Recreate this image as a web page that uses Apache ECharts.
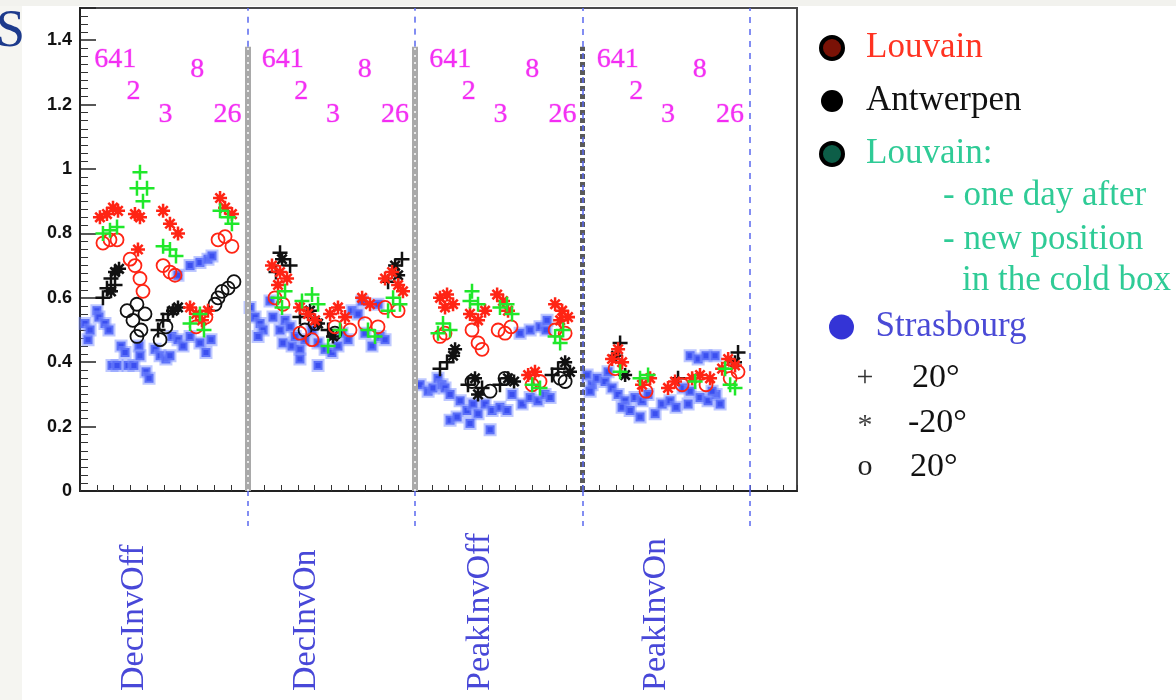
<!DOCTYPE html>
<html>
<head>
<meta charset="utf-8">
<title>Louvain / Antwerpen / Strasbourg</title>
<script src="https://cdn.jsdelivr.net/npm/echarts@6.0.0/dist/echarts.min.js"></script>
<style>
  html, body { margin: 0; padding: 0; background: #fff; }
  #chart { width: 1176px; height: 700px; }
</style>
</head>
<body>
<div id="chart"></div>
<script>
// x: position along the readout, 10 units per mode section; y: measured value
const sectionNames = ['DecInvOff', 'DecInvOn', 'PeakInvOff', 'PeakInvOn'];
const sectionStarts = [0, 10, 20, 30];
const sectionEdges = [10, 20, 30, 40];
const sectionLabelX = [3.2, 13.5, 23.9, 34.4];

const groupLabels = ['641', '2', '3', '8', '26'];
const groupLabelX = [2.1, 3.2, 5.1, 7.0, 8.8];
const groupLabelY = [1.34, 1.24, 1.17, 1.31, 1.17];

const strasbourg = [
  [0.30,0.52],[0.48,0.47],[0.60,0.50],[1.01,0.56],[1.13,0.54],[1.49,0.52],[1.73,0.50],[1.91,0.39],[2.21,0.39],[2.45,0.45],
  [2.69,0.43],[2.87,0.39],[3.22,0.39],[3.52,0.45],[3.58,0.42],[3.94,0.37],[4.12,0.35],[4.48,0.44],[4.78,0.42],[5.13,0.41],
  [5.37,0.42],[5.49,0.48],[5.85,0.47],[6.15,0.45],[5.85,0.67],[6.57,0.70],[7.16,0.71],[7.64,0.72],[7.88,0.73],[6.57,0.48],
  [7.16,0.46],[7.52,0.43],[7.82,0.47],
  [10.15,0.57],[10.45,0.54],[10.75,0.52],[10.93,0.50],[10.63,0.48],[11.34,0.59],[11.52,0.54],[11.94,0.50],[12.24,0.53],[12.12,0.46],
  [12.66,0.45],[12.54,0.51],[12.84,0.48],[13.13,0.44],[13.13,0.41],[13.43,0.47],[13.85,0.50],[14.21,0.46],[14.21,0.39],[14.63,0.44],
  [15.04,0.43],[15.40,0.45],[15.64,0.49],[16.00,0.47],[16.24,0.56],[16.60,0.55],[16.84,0.59],[17.01,0.49],[17.43,0.45],[17.91,0.48],
  [17.79,0.58],[18.21,0.47],
  [20.30,0.33],[20.78,0.31],[21.07,0.32],[21.37,0.35],[21.61,0.33],[21.79,0.32],[22.09,0.30],[22.09,0.22],[22.51,0.23],[22.69,0.28],
  [23.10,0.25],[23.46,0.27],[23.76,0.24],[23.28,0.21],[24.18,0.27],[24.60,0.25],[24.48,0.19],[25.07,0.26],[25.49,0.25],[25.79,0.30],
  [26.39,0.27],[26.87,0.29],[27.34,0.28],[27.76,0.30],[28.06,0.29],[26.27,0.49],[26.87,0.50],[27.46,0.51],[27.82,0.50],[27.88,0.53],
  [30.27,0.36],[30.57,0.33],[30.87,0.35],[30.45,0.31],[31.34,0.34],[31.76,0.32],[31.52,0.37],[32.12,0.30],[32.54,0.28],[32.36,0.26],
  [32.84,0.25],[33.13,0.29],[33.55,0.28],[33.91,0.30],[33.43,0.23],[34.33,0.24],[34.75,0.27],[35.22,0.28],[35.58,0.26],[36.00,0.32],
  [36.42,0.31],[36.30,0.27],[37.01,0.29],[37.49,0.28],[37.97,0.30],[38.21,0.27],[37.73,0.31],[36.42,0.42],[36.90,0.41],[37.37,0.42],
  [37.91,0.42]
];

const louvainStar = [
  [1.19,0.85],[1.61,0.86],[1.97,0.88],[2.27,0.87],[3.28,0.86],[3.58,0.85],[4.96,0.87],[5.37,0.83],[5.85,0.80],[8.36,0.91],
  [8.66,0.88],[9.07,0.86],[3.46,0.75],[6.57,0.57],[6.93,0.55],[7.28,0.53],[7.64,0.56],
  [11.46,0.70],[11.94,0.68],[12.36,0.66],[11.82,0.64],[13.13,0.57],[13.61,0.55],[14.03,0.53],[14.93,0.55],[15.40,0.57],[15.82,0.54],
  [16.84,0.60],[17.31,0.58],[18.21,0.66],[18.63,0.68],[18.99,0.64],[19.28,0.62],
  [21.49,0.60],[21.91,0.61],[22.27,0.58],[21.79,0.57],[23.28,0.55],[23.76,0.53],[24.18,0.56],[24.90,0.61],[25.25,0.59],[25.55,0.56],
  [26.75,0.36],[27.16,0.37],[28.36,0.58],[28.78,0.56],[29.13,0.54],[28.66,0.53],
  [31.76,0.41],[32.12,0.44],[32.36,0.40],[33.55,0.33],[34.03,0.35],[35.10,0.32],[35.52,0.34],[36.54,0.35],[37.01,0.36],[37.61,0.35],
  [38.33,0.38],[38.69,0.41],[39.10,0.39]
];

const louvainCircle = [
  [1.37,0.77],[1.79,0.78],[2.21,0.78],[2.99,0.72],[3.28,0.70],[3.58,0.66],[3.76,0.62],[4.96,0.70],[5.37,0.68],[5.67,0.67],
  [8.24,0.78],[8.66,0.79],[9.07,0.76],[6.93,0.51],[7.52,0.54],
  [11.64,0.60],[12.12,0.58],[13.13,0.49],[13.85,0.47],[15.22,0.51],[16.12,0.50],[17.01,0.52],[17.79,0.51],[18.21,0.57],[18.99,0.56],
  [21.49,0.48],[21.79,0.49],[23.40,0.50],[23.76,0.46],[24.00,0.44],[24.96,0.50],[25.37,0.49],[25.73,0.51],[26.99,0.33],[27.46,0.34],
  [28.36,0.50],[28.96,0.49],
  [31.94,0.38],[33.79,0.31],[35.94,0.33],[37.37,0.33],[38.81,0.35],[39.28,0.37]
];

const antwerpenCross = [
  [1.37,0.60],[1.61,0.63],[1.85,0.66],[2.09,0.64],[4.66,0.50],[4.96,0.53],[5.25,0.55],
  [11.94,0.74],[11.70,0.68],[12.54,0.70],[13.13,0.54],[14.81,0.50],[18.39,0.65],[19.22,0.72],
  [21.49,0.38],[21.91,0.40],[23.16,0.33],[24.00,0.32],[25.07,0.33],[28.18,0.36],[28.54,0.38],
  [32.24,0.46],[35.70,0.35],[39.28,0.43]
];

const antwerpenStar = [
  [2.09,0.68],[2.33,0.69],[5.55,0.56],[5.85,0.57],[1.85,0.62],
  [12.06,0.72],[13.73,0.56],[14.21,0.52],[15.10,0.48],[18.81,0.70],[18.99,0.67],
  [22.27,0.42],[22.39,0.44],[23.58,0.35],[23.76,0.30],[25.55,0.35],[25.91,0.34],[28.96,0.40],[29.25,0.37],
  [32.00,0.42],[39.10,0.40],[32.54,0.36]
];

const antwerpenCircle = [
  [2.81,0.56],[3.16,0.53],[3.40,0.58],[3.64,0.50],[3.88,0.55],[3.40,0.48],[4.78,0.47],[5.13,0.51],[8.06,0.58],[8.48,0.62],
  [8.84,0.63],[9.19,0.65],[8.24,0.60],
  [13.43,0.50],[14.03,0.52],[15.22,0.49],
  [23.40,0.34],[24.48,0.31],[25.37,0.35],[28.66,0.35],[28.96,0.34]
];

// Louvain, one day after / new position in the cold box
const louvain2Cross = [
  [3.58,0.99],[3.40,0.94],[4.00,0.94],[3.76,0.90],[1.37,0.80],[1.79,0.81],[2.21,0.82],[4.96,0.76],[5.37,0.75],[5.73,0.73],
  [8.36,0.87],[8.84,0.85],[9.07,0.83],[6.57,0.52],[7.16,0.55],[7.40,0.50],
  [11.82,0.60],[12.24,0.62],[12.06,0.57],[13.25,0.59],[13.85,0.61],[14.21,0.58],[14.81,0.45],[15.52,0.50],[17.19,0.50],[17.61,0.48],
  [18.39,0.56],[18.69,0.60],[19.10,0.58],
  [21.67,0.52],[22.09,0.50],[21.37,0.49],[23.40,0.62],[23.76,0.58],[23.28,0.59],[25.07,0.57],[25.49,0.58],[25.79,0.55],[26.99,0.33],
  [27.46,0.32],[28.36,0.48],[28.84,0.50],[28.66,0.46],
  [32.24,0.37],[33.43,0.35],[33.91,0.36],[36.72,0.34],[38.51,0.38],[38.81,0.33],[39.10,0.32]
];

const CROSS = 'path://M-1,-6h2v5h5v2h-5v5h-2v-5h-5v-2h5z';
const STAR = 'path://M-0.9,-5h1.8v10h-1.8z M-5,-0.9h10v1.8h-10z M-4,-2.7L-2.7,-4L4,2.7L2.7,4z M2.7,-4L4,-2.7L-2.7,4L-4,2.7z';

const RED = '#ff2414';
const BLACK = '#111111';
const GREEN = '#1fe82a';
const BLUE = '#3b4ff0';

let myChart = echarts.init(document.getElementById('chart'));

function markers(name, data, symbol, size, itemStyle, z) {
  itemStyle.opacity = 1;
  return {
    type: 'scatter', name: name, data: data, symbol: symbol, symbolSize: size,
    itemStyle: itemStyle, z: z, silent: true
  };
}

// section separators
const bandTop = 1.38;
const greyBand = { color: '#a9a9a9', width: 6, type: 'solid' };
const greyNotch = { color: '#e8e8e8', width: 2, type: [2, 5] };
const darkBand = { color: '#5a5a5a', width: 5, type: [5, 3] };
const blueDash = { color: '#5a68ee', width: 1.5, type: [6, 6] };
let frameLines = [];
sectionEdges.forEach((e, i) => {
  if (i < 2) {
    frameLines.push([{ coord: [e, 0], lineStyle: greyBand }, { coord: [e, bandTop] }]);
    frameLines.push([{ coord: [e, 0], lineStyle: greyNotch }, { coord: [e, bandTop] }]);
    frameLines.push([{ coord: [e, bandTop], lineStyle: blueDash }, { coord: [e, 1.5] }]);
  } else if (i == 2) {
    frameLines.push([{ coord: [e, 0], lineStyle: darkBand }, { coord: [e, bandTop] }]);
    frameLines.push([{ coord: [e, 0], lineStyle: blueDash }, { coord: [e, 1.5] }]);
  } else {
    frameLines.push([{ coord: [e, 0], lineStyle: blueDash }, { coord: [e, 1.5] }]);
  }
});

let groupLabelData = [];
sectionStarts.forEach(s => {
  groupLabels.forEach((g, i) => {
    groupLabelData.push({ name: g, value: [s + groupLabelX[i], groupLabelY[i]] });
  });
});

const serif = '"Liberation Serif", "DejaVu Serif", serif';

let option = {
  backgroundColor: '#ffffff',
  animation: false,
  grid: {
    left: 80, top: 8, right: 379, bottom: 209,
    show: true, borderColor: '#4a4a4a', borderWidth: 2
  },
  xAxis: [
    {
      type: 'value', min: 0, max: 42.8, interval: 1,
      axisLine: { show: true, lineStyle: { color: '#222', width: 2 } },
      axisTick: { inside: true, length: 6, lineStyle: { color: '#333' } },
      axisLabel: { show: false },
      splitLine: { show: false }
    },
    {
      type: 'value', min: 0, max: 42.8, position: 'bottom',
      axisLine: { show: false },
      splitLine: { show: false },
      axisTick: {
        show: true, customValues: sectionEdges, length: 37,
        lineStyle: { color: '#5a68ee', width: 1.5, type: [5, 5] }
      },
      axisLabel: {
        show: true, customValues: sectionLabelX,
        formatter: v => {
          let k = 0;
          sectionLabelX.forEach((x, i) => { if (Math.abs(x - v) < Math.abs(sectionLabelX[k] - v)) k = i; });
          return sectionNames[k];
        },
        rotate: 90, margin: 200, align: 'left', verticalAlign: 'middle',
        color: '#4848d8', fontFamily: serif, fontSize: 34
      }
    }
  ],
  yAxis: {
    type: 'value', min: 0, max: 1.5, interval: 0.2,
    axisLine: { show: true, lineStyle: { color: '#222', width: 2 } },
    axisTick: { inside: true, length: 16, lineStyle: { color: '#222', width: 1.5 } },
    minorTick: { show: true, splitNumber: 8, length: 8, lineStyle: { color: '#333' } },
    splitLine: { show: false },
    axisLabel: {
      formatter: v => (v > 1.45 ? '' : String(Math.round(v * 10) / 10)),
      color: '#111', fontFamily: 'Liberation Sans', fontWeight: 'bold', fontSize: 18, margin: 8
    }
  },
  legend: [
    {
      orient: 'vertical', left: 814, top: 25, itemWidth: 58, itemHeight: 22, itemGap: 17,
      selectedMode: false, icon: 'circle',
      textStyle: { fontFamily: serif, fontSize: 35, lineHeight: 36 },
      data: [
        { name: 'Louvain', itemStyle: { color: '#7a1206', borderColor: '#000', borderWidth: 4, opacity: 1 }, textStyle: { color: '#ff3322' } },
        { name: 'Antwerpen', itemStyle: { color: '#000', borderColor: '#000', borderWidth: 0, opacity: 1 }, textStyle: { color: '#111' } },
        { name: 'Louvain:', itemStyle: { color: '#0d5e48', borderColor: '#000', borderWidth: 4, opacity: 1 }, textStyle: { color: '#2fcb96' } }
      ]
    },
    {
      orient: 'vertical', left: 824, top: 304, itemWidth: 58, itemHeight: 25,
      selectedMode: false, icon: 'circle',
      textStyle: { fontFamily: serif, fontSize: 35, lineHeight: 36 },
      data: [
        { name: 'Strasbourg', itemStyle: { color: '#3434d6', borderColor: '#3434d6', borderWidth: 0, opacity: 1 }, textStyle: { color: '#4a4ad6' } }
      ]
    }
  ],
  graphic: [
    { type: 'rect', shape: { x: 0, y: 0, width: 22, height: 700 }, style: { fill: '#f5f5f1' }, z: -1 },
    { type: 'rect', shape: { x: 0, y: 0, width: 1176, height: 6 }, style: { fill: '#f2f2ee' }, z: -1 },
    { type: 'text', x: -4, y: 32, style: { text: 'S', fill: '#1c3a8c', font: '52px "Liberation Serif"', verticalAlign: 'middle' } },
    { type: 'text', x: 943, y: 196, style: { text: '- one day after', fill: '#2fcb96', font: '35px "Liberation Serif"', verticalAlign: 'middle' } },
    { type: 'text', x: 943, y: 240, style: { text: '- new position', fill: '#2fcb96', font: '35px "Liberation Serif"', verticalAlign: 'middle' } },
    { type: 'text', x: 962, y: 281, style: { text: 'in the cold box', fill: '#2fcb96', font: '35px "Liberation Serif"', verticalAlign: 'middle' } },
    { type: 'text', x: 865, y: 378, style: { text: '+', fill: '#333', font: '30px "Liberation Serif"', align: 'center', verticalAlign: 'middle' } },
    { type: 'text', x: 912, y: 378, style: { text: '20°', fill: '#111', font: '34px "Liberation Serif"', verticalAlign: 'middle' } },
    { type: 'text', x: 865, y: 426, style: { text: '*', fill: '#444', font: '30px "Liberation Serif"', align: 'center', verticalAlign: 'middle' } },
    { type: 'text', x: 908, y: 423, style: { text: '-20°', fill: '#111', font: '34px "Liberation Serif"', verticalAlign: 'middle' } },
    { type: 'text', x: 865, y: 467, style: { text: 'o', fill: '#222', font: '30px "Liberation Serif"', align: 'center', verticalAlign: 'middle' } },
    { type: 'text', x: 910, y: 467, style: { text: '20°', fill: '#111', font: '34px "Liberation Serif"', verticalAlign: 'middle' } }
  ],
  series: [
    {
      type: 'scatter', name: 'frame', data: [], z: 1, silent: true,
      markLine: { silent: true, symbol: ['none', 'none'], label: { show: false }, data: frameLines }
    },
    markers('Strasbourg', strasbourg, 'rect', 9,
      { color: BLUE, borderColor: 'rgba(125,145,255,0.5)', borderWidth: 4 }, 2),
    markers('Antwerpen', antwerpenCircle, 'circle', 13,
      { color: 'rgba(0,0,0,0)', borderColor: BLACK, borderWidth: 1.8 }, 3),
    markers('Antwerpen', antwerpenCross, CROSS, 15, { color: BLACK }, 3),
    markers('Antwerpen', antwerpenStar, STAR, 14, { color: BLACK }, 3),
    markers('Louvain', louvainCircle, 'circle', 13,
      { color: 'rgba(0,0,0,0)', borderColor: RED, borderWidth: 1.8 }, 4),
    markers('Louvain', louvainStar, STAR, 14, { color: RED }, 4),
    markers('Louvain:', louvain2Cross, CROSS, 15, { color: GREEN }, 5),
    {
      type: 'scatter', name: 'groups', data: groupLabelData, symbolSize: 1, z: 6, silent: true,
      itemStyle: { color: 'rgba(0,0,0,0)' },
      label: {
        show: true, position: 'inside', formatter: '{t|{b}}',
        rich: {
          t: {
            color: '#f000f0', fontFamily: serif, fontSize: 28,
            textBorderColor: 'rgba(240,0,240,0.35)', textBorderWidth: 1
          }
        }
      }
    }
  ]
};

myChart.setOption(option);
</script>
</body>
</html>
